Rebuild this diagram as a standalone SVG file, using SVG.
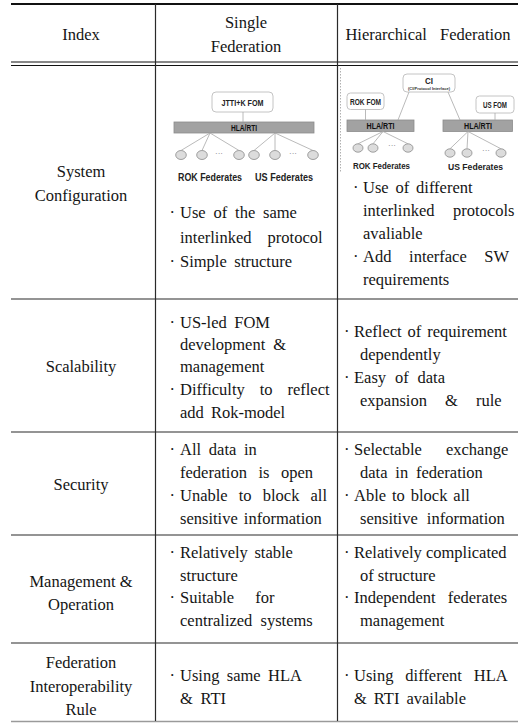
<svg xmlns="http://www.w3.org/2000/svg" width="518" height="725" viewBox="0 0 518 725">
<style>
.grid{stroke:#2a2a2a;stroke-width:1.2;fill:none}
.box{fill:#fff;stroke:#c4c4c4;stroke-width:1}
.bar{fill:#a2a2a2;stroke:#8c8c8c;stroke-width:0.8}
.fed{fill:#dcdcdc;stroke:#8a8a8a;stroke-width:0.8}
.ln{stroke:#a8a8a8;stroke-width:0.8;fill:none}
</style>
<rect width="518" height="725" fill="#fff"/>
<g id="table-grid">
<line x1="11" y1="4" x2="518" y2="4" stroke="#111" stroke-width="2"/>
<line x1="11" y1="62" x2="518" y2="62" stroke="#111" stroke-width="1"/>
<line x1="11" y1="65.5" x2="518" y2="65.5" stroke="#111" stroke-width="1"/>
<line class="grid" x1="11" y1="299" x2="518" y2="299"/>
<line class="grid" x1="11" y1="432" x2="518" y2="432"/>
<line class="grid" x1="11" y1="535" x2="518" y2="535"/>
<line class="grid" x1="11" y1="643" x2="518" y2="643"/>
<line x1="11" y1="721.5" x2="518" y2="721.5" stroke="#9a9a9a" stroke-width="1.5"/>
<line class="grid" x1="155.5" y1="4" x2="155.5" y2="721"/>
<line class="grid" x1="337.5" y1="4" x2="337.5" y2="721"/>
<line x1="340.5" y1="68" x2="340.5" y2="173" stroke="#b0b0b0" stroke-width="1" stroke-dasharray="1.5 1.5"/>
</g>
<g id="header">
<text font-family="Liberation Serif" font-size="16.5" fill="#151515" text-anchor="middle" x="81" y="40">Index</text>
<text font-family="Liberation Serif" font-size="16.5" fill="#151515" text-anchor="middle" x="246" y="28">Single</text>
<text font-family="Liberation Serif" font-size="16.5" fill="#151515" text-anchor="middle" x="246" y="52">Federation</text>
<text font-family="Liberation Serif" font-size="16.5" fill="#151515" text-anchor="middle" x="428" y="40" word-spacing="9">Hierarchical Federation</text>
</g>
<g id="row-system-configuration">
<text font-family="Liberation Serif" font-size="16.5" fill="#151515" text-anchor="middle" x="81" y="177">System</text>
<text font-family="Liberation Serif" font-size="16.5" fill="#151515" text-anchor="middle" x="81" y="201">Configuration</text>
<text font-family="Liberation Serif" font-size="16.5" fill="#151515" y="218"><tspan x="169.5">·</tspan><tspan x="180" word-spacing="3.7">Use of the same</tspan></text>
<text font-family="Liberation Serif" font-size="16.5" fill="#151515" x="180" y="243" word-spacing="12">interlinked protocol</text>
<text font-family="Liberation Serif" font-size="16.5" fill="#151515" y="267"><tspan x="169.5">·</tspan><tspan x="180" word-spacing="3.4">Simple structure</tspan></text>
<text font-family="Liberation Serif" font-size="16.5" fill="#151515" y="193"><tspan x="353">·</tspan><tspan x="363" word-spacing="2.7">Use of different</tspan></text>
<text font-family="Liberation Serif" font-size="16.5" fill="#151515" x="363" y="216" word-spacing="14.5">interlinked protocols</text>
<text font-family="Liberation Serif" font-size="16.5" fill="#151515" x="363" y="239">avaliable</text>
<text font-family="Liberation Serif" font-size="16.5" fill="#151515" y="262"><tspan x="353">·</tspan><tspan x="363" word-spacing="13.5">Add interface SW</tspan></text>
<text font-family="Liberation Serif" font-size="16.5" fill="#151515" x="363" y="285">requirements</text>
</g>
<g id="row-scalability">
<text font-family="Liberation Serif" font-size="16.5" fill="#151515" text-anchor="middle" x="81" y="372">Scalability</text>
<text font-family="Liberation Serif" font-size="16.5" fill="#151515" y="328"><tspan x="169.5">·</tspan><tspan x="180" word-spacing="3.4">US-led FOM</tspan></text>
<text font-family="Liberation Serif" font-size="16.5" fill="#151515" x="180" y="350" word-spacing="4">development &amp;</text>
<text font-family="Liberation Serif" font-size="16.5" fill="#151515" x="180" y="372">management</text>
<text font-family="Liberation Serif" font-size="16.5" fill="#151515" y="395"><tspan x="169.5">·</tspan><tspan x="180" word-spacing="10.8">Difficulty to reflect</tspan></text>
<text font-family="Liberation Serif" font-size="16.5" fill="#151515" x="180" y="418" word-spacing="3">add Rok-model</text>
<text font-family="Liberation Serif" font-size="16.5" fill="#151515" y="337"><tspan x="344">·</tspan><tspan x="354" word-spacing="1.8">Reflect of requirement</tspan></text>
<text font-family="Liberation Serif" font-size="16.5" fill="#151515" x="360" y="360">dependently</text>
<text font-family="Liberation Serif" font-size="16.5" fill="#151515" y="383"><tspan x="344">·</tspan><tspan x="354" word-spacing="4.7">Easy of data</tspan></text>
<text font-family="Liberation Serif" font-size="16.5" fill="#151515" x="360" y="406" word-spacing="14">expansion &amp; rule</text>
</g>
<g id="row-security">
<text font-family="Liberation Serif" font-size="16.5" fill="#151515" text-anchor="middle" x="81" y="490">Security</text>
<text font-family="Liberation Serif" font-size="16.5" fill="#151515" y="455"><tspan x="169.5">·</tspan><tspan x="180" word-spacing="3.6">All data in</tspan></text>
<text font-family="Liberation Serif" font-size="16.5" fill="#151515" x="180" y="478" word-spacing="7.4">federation is open</text>
<text font-family="Liberation Serif" font-size="16.5" fill="#151515" y="501"><tspan x="169.5">·</tspan><tspan x="180" word-spacing="7">Unable to block all</tspan></text>
<text font-family="Liberation Serif" font-size="16.5" fill="#151515" x="180" y="524" word-spacing="2">sensitive information</text>
<text font-family="Liberation Serif" font-size="16.5" fill="#151515" y="455"><tspan x="344">·</tspan><tspan x="354" word-spacing="20">Selectable exchange</tspan></text>
<text font-family="Liberation Serif" font-size="16.5" fill="#151515" x="360" y="478" word-spacing="3.7">data in federation</text>
<text font-family="Liberation Serif" font-size="16.5" fill="#151515" y="501"><tspan x="344">·</tspan><tspan x="354" word-spacing="1.8">Able to block all</tspan></text>
<text font-family="Liberation Serif" font-size="16.5" fill="#151515" x="360" y="524" word-spacing="5">sensitive information</text>
</g>
<g id="row-management-operation">
<text font-family="Liberation Serif" font-size="16.5" fill="#151515" text-anchor="middle" x="81" y="587">Management &amp;</text>
<text font-family="Liberation Serif" font-size="16.5" fill="#151515" text-anchor="middle" x="81" y="610">Operation</text>
<text font-family="Liberation Serif" font-size="16.5" fill="#151515" y="558"><tspan x="169.5">·</tspan><tspan x="180" word-spacing="2.5">Relatively stable</tspan></text>
<text font-family="Liberation Serif" font-size="16.5" fill="#151515" x="180" y="581">structure</text>
<text font-family="Liberation Serif" font-size="16.5" fill="#151515" y="603"><tspan x="169.5">·</tspan><tspan x="180" word-spacing="17">Suitable for</tspan></text>
<text font-family="Liberation Serif" font-size="16.5" fill="#151515" x="180" y="626" word-spacing="4">centralized systems</text>
<text font-family="Liberation Serif" font-size="16.5" fill="#151515" y="558"><tspan x="344">·</tspan><tspan x="354">Relatively complicated</tspan></text>
<text font-family="Liberation Serif" font-size="16.5" fill="#151515" x="360" y="581">of structure</text>
<text font-family="Liberation Serif" font-size="16.5" fill="#151515" y="603"><tspan x="344">·</tspan><tspan x="354" word-spacing="8">Independent federates</tspan></text>
<text font-family="Liberation Serif" font-size="16.5" fill="#151515" x="360" y="626">management</text>
</g>
<g id="row-interoperability-rule">
<text font-family="Liberation Serif" font-size="16.5" fill="#151515" text-anchor="middle" x="81" y="668">Federation</text>
<text font-family="Liberation Serif" font-size="16.5" fill="#151515" text-anchor="middle" x="81" y="692">Interoperability</text>
<text font-family="Liberation Serif" font-size="16.5" fill="#151515" text-anchor="middle" x="81" y="715">Rule</text>
<text font-family="Liberation Serif" font-size="16.5" fill="#151515" y="681"><tspan x="169.5">·</tspan><tspan x="180" word-spacing="3.2">Using same HLA</tspan></text>
<text font-family="Liberation Serif" font-size="16.5" fill="#151515" x="180" y="704" word-spacing="3.5">&amp; RTI</text>
<text font-family="Liberation Serif" font-size="16.5" fill="#151515" y="681"><tspan x="344">·</tspan><tspan x="354" word-spacing="7.8">Using different HLA</tspan></text>
<text font-family="Liberation Serif" font-size="16.5" fill="#151515" x="354" y="704" word-spacing="2.9">&amp; RTI available</text>
</g>
<g id="single-federation-diagram">
<g id="node-jtti-fom">
<rect class="box" x="212" y="92" width="61" height="20" rx="4"/>
<text font-family="Liberation Sans" font-weight="bold" fill="#222" text-anchor="middle" x="242.5" y="106" font-size="9.5" textLength="42" lengthAdjust="spacingAndGlyphs">JTTI+K FOM</text>
</g>
<g id="node-hla-rti-single">
<rect class="bar" x="174" y="122" width="140" height="11"/>
<text font-family="Liberation Sans" font-weight="bold" fill="#111" text-anchor="middle" x="244" y="131" font-size="9" textLength="26" lengthAdjust="spacingAndGlyphs">HLA/RTI</text>
</g>
<g id="node-rok-federates-single">
<ellipse class="fed" cx="181" cy="155" rx="5.3" ry="4.5"/>
<ellipse class="fed" cx="202" cy="155" rx="5.3" ry="4.5"/>
<text font-family="Liberation Sans" font-size="8" fill="#777" text-anchor="middle" x="219" y="156">···</text>
<ellipse class="fed" cx="239" cy="155" rx="5.3" ry="4.5"/>
<text font-family="Liberation Sans" font-weight="bold" fill="#222" text-anchor="middle" x="210" y="181" font-size="11" textLength="64" lengthAdjust="spacingAndGlyphs">ROK Federates</text>
</g>
<g id="node-us-federates-single">
<ellipse class="fed" cx="254" cy="155" rx="5.3" ry="4.5"/>
<ellipse class="fed" cx="275" cy="155" rx="5.3" ry="4.5"/>
<text font-family="Liberation Sans" font-size="8" fill="#777" text-anchor="middle" x="293" y="156">···</text>
<ellipse class="fed" cx="313" cy="155" rx="5.3" ry="4.5"/>
<text font-family="Liberation Sans" font-weight="bold" fill="#222" text-anchor="middle" x="284" y="181" font-size="11" textLength="58" lengthAdjust="spacingAndGlyphs">US Federates</text>
</g>
</g>
<g id="hierarchical-federation-diagram">
<g id="node-ci">
<rect class="box" x="403" y="74" width="52" height="18" rx="4"/>
<text font-family="Liberation Sans" font-weight="bold" fill="#222" text-anchor="middle" x="429" y="84" font-size="9" textLength="8" lengthAdjust="spacingAndGlyphs">CI</text>
<text font-family="Liberation Sans" font-weight="bold" fill="#333" text-anchor="middle" x="429" y="89.5" font-size="3.6" textLength="42" lengthAdjust="spacingAndGlyphs">(CI/Protocol Interface)</text>
</g>
<g id="node-rok-fom">
<rect class="box" x="347" y="93" width="37" height="16.5" rx="3.5"/>
<text font-family="Liberation Sans" font-weight="bold" fill="#222" text-anchor="middle" x="365.5" y="104.5" font-size="9" textLength="31" lengthAdjust="spacingAndGlyphs">ROK FOM</text>
</g>
<g id="node-us-fom">
<rect class="box" x="476" y="96" width="38" height="17" rx="3.5"/>
<text font-family="Liberation Sans" font-weight="bold" fill="#222" text-anchor="middle" x="495" y="108" font-size="9" textLength="24" lengthAdjust="spacingAndGlyphs">US FOM</text>
</g>
<g id="node-hla-rti-rok">
<rect class="bar" x="347" y="120" width="67" height="11.5"/>
<text font-family="Liberation Sans" font-weight="bold" fill="#111" text-anchor="middle" x="380.5" y="129.2" font-size="9" textLength="28" lengthAdjust="spacingAndGlyphs">HLA/RTI</text>
</g>
<g id="node-hla-rti-us">
<rect class="bar" x="443" y="120" width="69.5" height="11.5"/>
<text font-family="Liberation Sans" font-weight="bold" fill="#111" text-anchor="middle" x="478" y="129.2" font-size="9" textLength="28" lengthAdjust="spacingAndGlyphs">HLA/RTI</text>
</g>
<g id="node-rok-federates-hier">
<ellipse class="fed" cx="358" cy="148" rx="5" ry="4.2"/>
<ellipse class="fed" cx="373" cy="148" rx="5" ry="4.2"/>
<text font-family="Liberation Sans" font-size="8" fill="#777" text-anchor="middle" x="392" y="148">···</text>
<ellipse class="fed" cx="408" cy="148" rx="5" ry="4.2"/>
<text font-family="Liberation Sans" font-weight="bold" fill="#222" text-anchor="middle" x="381.5" y="169" font-size="9" textLength="57" lengthAdjust="spacingAndGlyphs">ROK Federates</text>
</g>
<g id="node-us-federates-hier">
<ellipse class="fed" cx="450" cy="153" rx="5" ry="4.2"/>
<ellipse class="fed" cx="467" cy="153" rx="5" ry="4.2"/>
<text font-family="Liberation Sans" font-size="8" fill="#777" text-anchor="middle" x="486" y="153">···</text>
<ellipse class="fed" cx="501" cy="153" rx="5" ry="4.2"/>
<text font-family="Liberation Sans" font-weight="bold" fill="#222" text-anchor="middle" x="475.5" y="170" font-size="9" textLength="55" lengthAdjust="spacingAndGlyphs">US Federates</text>
</g>
</g>
<g id="connectors">
<line class="ln" x1="243" y1="112" x2="243" y2="122"/>
<line class="ln" x1="210" y1="133" x2="181" y2="150.5"/>
<line class="ln" x1="210" y1="133" x2="202" y2="150.5"/>
<line class="ln" x1="210" y1="133" x2="239" y2="150.5"/>
<line class="ln" x1="275" y1="133" x2="254" y2="150.5"/>
<line class="ln" x1="275" y1="133" x2="275" y2="150.5"/>
<line class="ln" x1="275" y1="133" x2="313" y2="150.5"/>
<line class="ln" x1="365.5" y1="109.5" x2="365.5" y2="120"/>
<line class="ln" x1="495" y1="113" x2="495" y2="120"/>
<line class="ln" x1="409" y1="92" x2="398" y2="120"/>
<line class="ln" x1="448" y1="92" x2="460" y2="120"/>
<line class="ln" x1="383" y1="131.5" x2="358" y2="143.8"/>
<line class="ln" x1="383" y1="131.5" x2="373" y2="143.8"/>
<line class="ln" x1="383" y1="131.5" x2="408" y2="143.8"/>
<line class="ln" x1="468" y1="131.5" x2="450" y2="148.8"/>
<line class="ln" x1="468" y1="131.5" x2="467" y2="148.8"/>
<line class="ln" x1="468" y1="131.5" x2="501" y2="148.8"/>
</g>
</svg>
